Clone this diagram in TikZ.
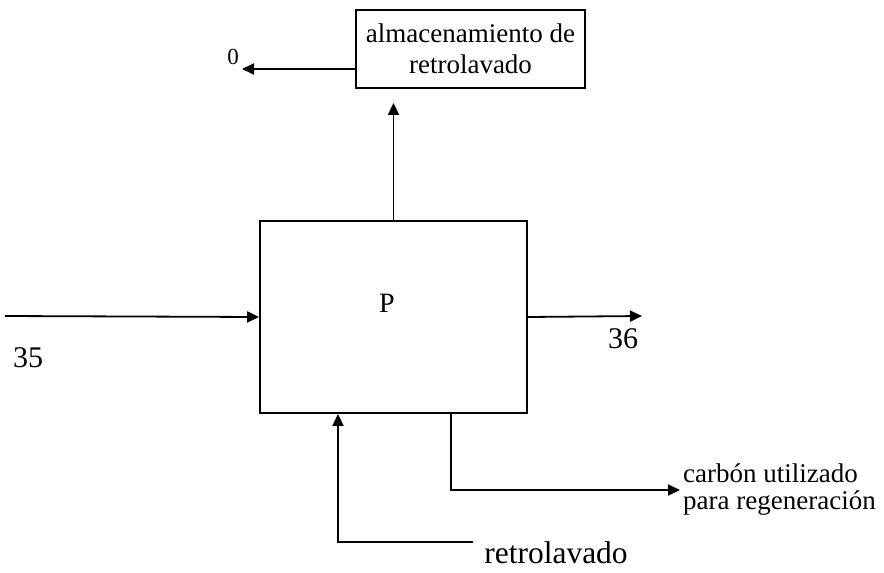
\documentclass[tikz,border=0pt]{standalone}
\usepackage{fontspec}
\setmainfont{Liberation Serif}
\usetikzlibrary{positioning,arrows.meta}
\tikzset{
  flow/.style    = {line width=1.8pt, -{Triangle[length=12pt,width=11pt]}},
  unitbox/.style = {draw, line width=1.8pt, inner sep=2pt},
  lbl/.style     = {inner sep=0pt, font=\fontsize{30}{34}\selectfont},
  lbls/.style    = {inner sep=0pt, font=\fontsize{27}{27}\selectfont},
}

\begin{document}
\begin{tikzpicture}[x=1pt,y=-1pt]
  \useasboundingbox (0,0) rectangle (884,573);
  % units
  \node[unitbox, minimum width=267pt, minimum height=192pt] (P) at (393.5,317) {};
  \node[lbl, font=\fontsize{28}{30}\selectfont] (plbl) at (387,303) {P};
  \node[unitbox, minimum width=229pt, minimum height=78pt, align=center,
        font=\fontsize{27}{31}\selectfont] (store) at (470.5,49)
        {almacenamiento de\\retrolavado};
  % streams
  \coordinate (in35) at (5,316);
  \coordinate (out36) at (642,316);
  \coordinate (o) at (242,69);
  \coordinate (rb) at (338,542);
  \coordinate (re) at (473,542);
  \coordinate (cb) at (451,490);
  \coordinate (ce) at (680,490);
  \draw[flow] (in35) -- (P.west);
  \draw[flow] (P.east) -- (out36);
  \draw[flow, shorten >=14pt] (P.north) -- (P.north |- store.south);
  \draw[flow] (store.west |- o) -- (o);
  \draw[flow] (re) -- (rb) -- (rb |- P.south);
  \draw[flow] (cb |- P.south) -- (cb) -- (ce);
  % labels
  \node[lbl] (l35) at (28,358) {35};
  \node[lbl] (l36) at (623,339) {36};
  \node[inner sep=0pt, font=\fontsize{23}{25}\selectfont] (l0) at (233,56.5) {0};
  \node[lbl, font=\fontsize{31.5}{34}\selectfont] (lret) at (556,553) {retrolavado};
  \node[lbls, anchor=west, align=left] (lcarb) at (683,490)
        {carbón utilizado\\para regeneración};
\end{tikzpicture}
\end{document}
